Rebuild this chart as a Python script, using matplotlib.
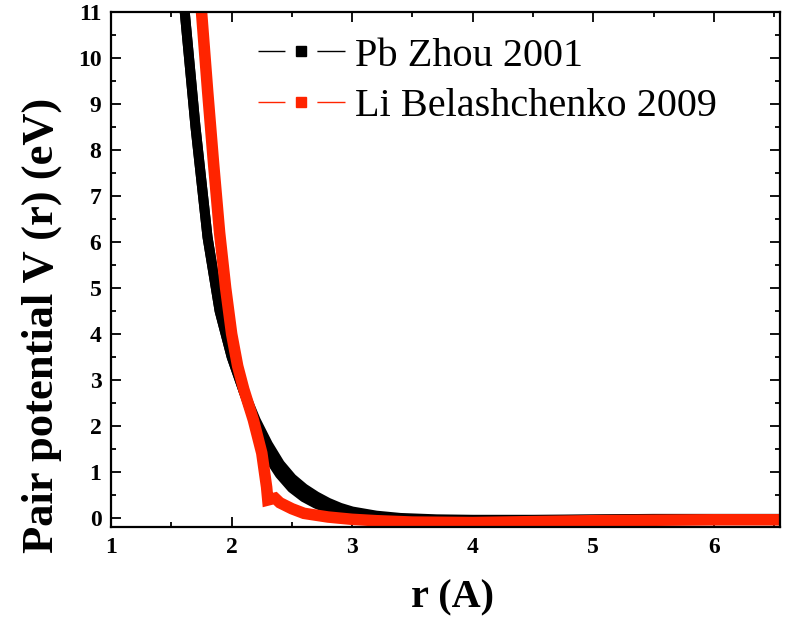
import matplotlib.pyplot as plt
from matplotlib.lines import Line2D
from matplotlib.ticker import MultipleLocator

plt.rcParams['font.family'] = 'Liberation Serif'

# Pb Zhou 2001 (drawn as a thick band: two close curves)
pb_r = [1.55, 1.6, 1.7, 1.8, 1.9, 2.0, 2.1, 2.2, 2.3, 2.4, 2.5, 2.6, 2.7, 2.8,
        2.9, 3.0, 3.2, 3.4, 3.7, 4.0, 4.5, 5.0, 5.5, 6.0, 6.6]
pb_upper = [13.0, 11.3, 8.5, 6.1, 4.5, 3.5, 2.75, 2.12, 1.6, 1.17, 0.86, 0.64,
            0.47, 0.33, 0.22, 0.14, 0.05, 0.0, -0.03, -0.04, -0.04, -0.03,
            -0.02, -0.02, -0.02]
pb_lower = [13.0, 11.3, 8.5, 6.1, 4.5, 3.5, 2.75, 2.0, 1.35, 0.95, 0.65, 0.45,
            0.31, 0.2, 0.12, 0.06, 0.0, -0.03, -0.05, -0.05, -0.05, -0.04,
            -0.03, -0.03, -0.03]

# Li Belashchenko 2009
li_r = [1.68, 1.75, 1.8, 1.85, 1.9, 1.95, 2.0, 2.05, 2.1, 2.18, 2.25, 2.29,
        2.30, 2.36, 2.40, 2.5, 2.6, 2.8, 3.0, 3.2, 3.5, 4.0, 4.5, 5.0, 5.5,
        6.0, 6.6]
li_v = [12.8, 11.0, 9.3, 7.7, 6.2, 5.0, 4.0, 3.3, 2.8, 2.13, 1.41, 0.67,
        0.39, 0.43, 0.33, 0.2, 0.1, 0.02, -0.03, -0.06, -0.09, -0.1, -0.08,
        -0.06, -0.05, -0.04, -0.04]

red = '#ff2400'

fig = plt.figure(figsize=(7.88, 6.18), dpi=100)
ax = fig.add_axes([0.141, 0.147, 0.849, 0.834])

ax.plot(pb_r, pb_upper, color='black', lw=7.2, solid_joinstyle='round')
ax.plot(pb_r, pb_lower, color='black', lw=7.2, solid_joinstyle='round')
ax.plot(li_r, li_v, color=red, lw=8.3, solid_joinstyle='miter')

ax.set_xlim(1, 6.55)
ax.set_ylim(-0.2, 11)
ax.xaxis.set_major_locator(MultipleLocator(1))
ax.xaxis.set_minor_locator(MultipleLocator(0.5))
ax.yaxis.set_major_locator(MultipleLocator(1))
ax.yaxis.set_minor_locator(MultipleLocator(0.5))
ax.tick_params(which='both', direction='in', top=True, right=True, width=1.3)
ax.tick_params(which='major', length=7.5, labelsize=17, pad=7)
ax.tick_params(which='minor', length=3.5)
for lab in ax.get_xticklabels() + ax.get_yticklabels():
    lab.set_fontweight('bold')
for s in ax.spines.values():
    s.set_linewidth(1.6)

ax.set_xlabel('r (A)', fontsize=29, fontweight='bold', va='center')
ax.xaxis.set_label_coords(0.51, -0.138)
ax.set_ylabel('Pair potential V (r) (eV)', fontsize=32, fontweight='bold', va='center')
ax.yaxis.set_label_coords(-0.103, 0.392)

handles = [
    Line2D([], [], color='black', lw=1, marker='s', markersize=7,
           linestyle=(0, (19.4, 23, 20, 0))),
    Line2D([], [], color=red, lw=1, marker='s', markersize=7,
           linestyle=(0, (19.4, 23, 20, 0))),
]
ax.legend(handles, ['Pb Zhou 2001', 'Li Belashchenko 2009'], loc='upper left',
          bbox_to_anchor=(0.177, 1.005), frameon=False, fontsize=29,
          handlelength=2.16, handletextpad=0.25, labelspacing=0.32,
          borderaxespad=0.3)

fig.savefig('out.png', dpi=100)
